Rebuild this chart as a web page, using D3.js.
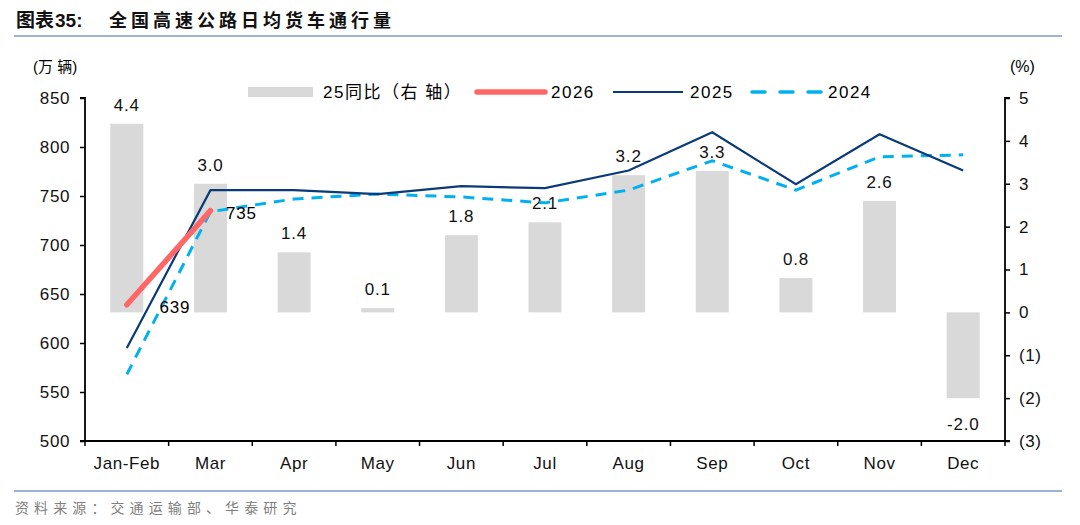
<!DOCTYPE html>
<html><head><meta charset="utf-8">
<script src="https://cdn.jsdelivr.net/npm/d3@7"></script>
<style>
body{margin:0;background:#fff;}
text{font-family:"Liberation Sans",Arial,"Noto Sans CJK SC",sans-serif;}
</style></head>
<body><svg id="c" width="1080" height="525"></svg>
<script>
const categories = ["Jan-Feb","Mar","Apr","May","Jun","Jul","Aug","Sep","Oct","Nov","Dec"];
const yoy25 = [4.4,3.0,1.4,0.1,1.8,2.1,3.2,3.3,0.8,2.6,-2.0];
const s2026 = [639,735];
const s2025 = [595,756,756,752,760,758,776,815,762,813,776];
const s2024 = [568,734,747,752,749,743,756,786,756,790,792];
const leftTicks = [500,550,600,650,700,750,800,850];
const rightTicks = [-3,-2,-1,0,1,2,3,4,5];

const svg = d3.select("#c");
const L = 85, R = 1005, T = 98, B = 441;
const x = d3.scaleBand().domain(categories).range([L,R]);
const yL = d3.scaleLinear().domain([500,850]).range([B,T]);
const yR = d3.scaleLinear().domain([-3,5]).range([B,T]);
const cx = d => x(d) + x.bandwidth()/2;
const CJK = "'Noto Sans CJK SC',sans-serif";

// title
svg.append("text").attr("x",16).attr("y",27).attr("font-size",19).attr("font-weight","bold")
  .attr("font-family","'Noto Sans CJK SC',sans-serif").attr("fill","#111").text("图表");
svg.append("text").attr("x",55).attr("y",27).attr("font-size",19).attr("font-weight","bold")
  .attr("font-family","'Liberation Sans',Arial,sans-serif").attr("fill","#111").text("35:");
svg.append("text").attr("x",109).attr("y",27).attr("font-size",18).attr("font-weight","bold")
  .attr("font-family",CJK).attr("letter-spacing","4").attr("fill","#111").text("全国高速公路日均货车通行量");
svg.append("line").attr("x1",14).attr("x2",1062).attr("y1",36).attr("y2",36).attr("stroke","#9DB3CF").attr("stroke-width",2);
svg.append("line").attr("x1",14).attr("x2",1062).attr("y1",491).attr("y2",491).attr("stroke","#9DB3CF").attr("stroke-width",2);
svg.append("text").attr("x",15).attr("y",513).attr("font-size",14).attr("fill","#808080")
  .attr("font-family",CJK).attr("letter-spacing","5.1").text("资料来源：交通运输部、华泰研究");

// unit labels
svg.append("text").attr("x",33).attr("y",72).attr("font-size",15).attr("font-family",CJK).text("(万 辆)");
svg.append("text").attr("x",1010).attr("y",72).attr("font-size",16).text("(%)");

// bars
const bw = 33;
svg.append("g").selectAll("rect").data(yoy25).join("rect")
  .attr("x",(d,i)=>cx(categories[i])-bw/2)
  .attr("width",bw)
  .attr("y",d=>yR(Math.max(0,d)))
  .attr("height",d=>Math.abs(yR(d)-yR(0)))
  .attr("fill","#D9D9D9");
svg.append("g").selectAll("text").data(yoy25).join("text")
  .attr("x",(d,i)=>cx(categories[i]))
  .attr("y",d=> d>=0 ? yR(d)-13 : yR(d)+32)
  .attr("text-anchor","middle").attr("font-size",17).attr("letter-spacing","0.8").attr("fill","#111")
  .text(d=>d.toFixed(1));

// lines
const line = d3.line().x((d,i)=>cx(categories[i])).y(d=>yL(d));
svg.append("path").datum(s2024).attr("d",line).attr("fill","none").attr("stroke","#00B0F0")
  .attr("stroke-width",3).attr("stroke-dasharray","11,8");
svg.append("path").datum(s2025).attr("d",line).attr("fill","none").attr("stroke","#0B3A78").attr("stroke-width",2.2);
svg.append("path").datum(s2026).attr("d",line).attr("fill","none").attr("stroke","#FF6666")
  .attr("stroke-width",5.5).attr("stroke-linecap","round");

svg.append("text").attr("x",cx(categories[0])+48).attr("y",yL(s2026[0])+8).attr("text-anchor","middle").attr("font-size",17).attr("letter-spacing","0.8").text(s2026[0]);
svg.append("text").attr("x",cx(categories[1])+31).attr("y",yL(s2026[1])+8).attr("text-anchor","middle").attr("font-size",17).attr("letter-spacing","0.8").text(s2026[1]);

// axes
const axL = d3.axisLeft(yL).tickValues(leftTicks).tickSize(5).tickPadding(10);
const gL = svg.append("g").attr("transform",`translate(${L},0)`).call(axL);
const axR = d3.axisRight(yR).tickValues(rightTicks).tickSize(5).tickPadding(9)
  .tickFormat(d=> d<0 ? `(${-d})` : d);
const gR = svg.append("g").attr("transform",`translate(${R},0)`).call(axR);
const axB = d3.axisBottom(x).tickSize(0).tickPadding(16);
const gB = svg.append("g").attr("transform",`translate(0,${B})`).call(axB);
// boundary ticks
svg.append("g").selectAll("line").data(d3.range(categories.length+1)).join("line")
  .attr("x1",i=>L+i*x.step()).attr("x2",i=>L+i*x.step())
  .attr("y1",B).attr("y2",B+5).attr("stroke","#000").attr("stroke-width",1.5);
[gL,gR,gB].forEach(g=>{
  g.selectAll(".domain").attr("stroke","#000").attr("stroke-width",1.8);
  g.selectAll(".tick line").attr("stroke","#000").attr("stroke-width",1.5);
  g.selectAll("text").attr("font-size",17).attr("letter-spacing","0.6").attr("fill","#111").attr("font-family","'Liberation Sans',Arial,sans-serif");
});
gL.select(".domain").attr("d",`M-5,${T}H0V${B}H-5`);
gR.select(".domain").attr("d",`M5,${T}H0V${B}H5`);
gB.select(".domain").attr("d",`M${L},0H${R}`);

// legend
const lg = svg.append("g").attr("font-size",17).attr("letter-spacing","1.5");
lg.append("rect").attr("x",248).attr("y",87).attr("width",65).attr("height",10).attr("fill","#D9D9D9");
lg.append("text").attr("x",323).attr("y",98).attr("font-family","'Liberation Sans','Noto Sans CJK SC',sans-serif").text("25同比（右 轴）");
lg.append("line").attr("x1",477).attr("x2",545).attr("y1",92).attr("y2",92).attr("stroke","#FF6666").attr("stroke-width",5.5).attr("stroke-linecap","round");
lg.append("text").attr("x",551).attr("y",98).text("2026");
lg.append("line").attr("x1",613).attr("x2",683).attr("y1",92).attr("y2",92).attr("stroke","#0B3A78").attr("stroke-width",2.2);
lg.append("text").attr("x",690).attr("y",98).text("2025");
lg.append("line").attr("x1",752).attr("x2",822).attr("y1",92).attr("y2",92).attr("stroke","#00B0F0").attr("stroke-width",3.5).attr("stroke-dasharray","13,15").attr("stroke-linecap","round");
lg.append("text").attr("x",828).attr("y",98).text("2024");
</script></body></html>
